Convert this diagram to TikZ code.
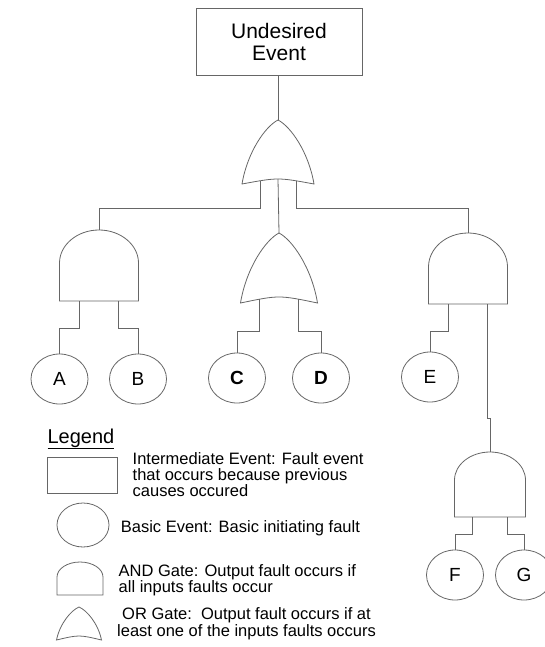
\documentclass[tikz,border=0pt]{standalone}
\usepackage{fontspec}
\setmainfont{Liberation Sans}
\usetikzlibrary{shapes.geometric}

\newcommand\legendfont{\fontsize{16.5}{16}\selectfont}

\tikzset{
  wire/.style={draw=black!60, line width=0.8pt},
  event/.style={wire, ellipse, minimum width=57pt, minimum height=50pt, inner sep=0pt,
    font=\fontsize{19}{19}\selectfont},
  % AND gate: #1 half width, #2 dome height, #3 side height
  pics/andgate/.style n args={3}{code={
    \draw[wire] (-#1,{#2+#3}) -- (-#1,#2) .. controls (-#1,{0.45*#2}) and ({-0.55*#1},0) .. (0,0)
      .. controls ({0.55*#1},0) and (#1,{0.45*#2}) .. (#1,#2) -- (#1,{#2+#3}) -- cycle;
    \coordinate (-out) at (0,0);
    \coordinate (-in1) at ({-0.5*#1},{#2+#3});
    \coordinate (-in2) at ({0.5*#1},{#2+#3});
  }},
  % OR gate: #1 half width, #2 height, #3 rise of the base
  pics/orgate/.style n args={3}{code={
    \draw[wire] (0,0) .. controls ({-0.35*#1},{0.1*#2}) and ({-0.85*#1},{0.5*#2}) .. (-#1,#2)
      .. controls (0,{#2-1.333*#3}) .. (#1,#2)
      .. controls ({0.85*#1},{0.5*#2}) and ({0.35*#1},{0.1*#2}) .. (0,0) -- cycle;
    \coordinate (-out) at (0,0);
    \coordinate (-in0) at (0,{#2-#3});
    \coordinate (-in1) at ({-0.5*#1},{#2-0.64*#3});
    \coordinate (-in2) at ({0.5*#1},{#2-0.64*#3});
  }}
}

\begin{document}
\begin{tikzpicture}[x=1pt, y=-1pt]
    \useasboundingbox (0,0) rectangle (545,647);

    % Top event
    \node[wire, minimum width=166pt, minimum height=67pt, align=center,
      font=\fontsize{21}{22}\selectfont] (top) at (279,41.5) {Undesired\\Event};

    % Gates
    \pic (or1) at (278,120) {orgate={36}{64}{5}};
    \pic (and1) at (99,230) {andgate={39.5}{33}{38}};
    \pic (or2) at (279,233) {orgate={38.5}{70}{6}};
    \pic (and2) at (468,233) {andgate={39.5}{34}{37}};
    \pic (and3) at (490,452) {andgate={35.5}{28}{37}};

    % Basic events
    \node[event] (evA) at (59.5,379) {A};
    \node[event] (evB) at (138,379) {B};
    \node[event] (evC) at (237,378) {\bfseries C};
    \node[event] (evD) at (321,378) {\bfseries D};
    \node[event] (evE) at (430,377) {E};
    \node[event] (evF) at (455,575) {F};
    \node[event] (evG) at (524,575) {G};

    % Connections
    \draw[wire] (top.south -| or1-out) -- (or1-out);
    \draw[wire] (or1-in1) -- ++(0,28) -| (and1-out);
    \draw[wire] (or1-in0) -- (or2-out);
    \draw[wire] (or1-in2) -- ++(0,28) -| (and2-out);
    \draw[wire] (and1-in1) -- ++(0,27) -| (evA.north);
    \draw[wire] (and1-in2) -- ++(0,27) -| (evB.north);
    \draw[wire] (or2-in1) -- ++(0,32) -| (evC.north);
    \draw[wire] (or2-in2) -- ++(0,32) -| (evD.north);
    \draw[wire] (and2-in1) -- ++(0,27) -| (evE.north);
    \draw[wire] (and2-in2) -- ++(0,114) -| (and3-out);
    \draw[wire] (and3-in1) -- ++(0,17) -| (evF.north);
    \draw[wire] (and3-in2) -- ++(0,17) -| (evG.north);

    % Legend (multi-line texts are placed by the baseline of their last line)
    \node[anchor=base west, font=\fontsize{20}{20}\selectfont] (lgtitle) at (44,443) {\underline{Legend}};
    \node[wire, minimum width=70pt, minimum height=36pt] (lgbox) at (82,475) {};
    \node[anchor=base west, align=left, font=\legendfont, inner sep=0pt] (lgboxtext) at (132.5,496.7)
      {Intermediate Event: Fault event\\that occurs because previous\\causes occured};
    \node[wire, ellipse, minimum width=52pt, minimum height=44pt, inner sep=0pt] (lgevent) at (83,525) {};
    \node[anchor=base west, font=\legendfont, inner sep=0pt] (lgeventtext) at (120.7,532.7)
      {Basic Event: Basic initiating fault};
    \pic (lgand) at (80,562) {andgate={23}{15}{18}};
    \node[anchor=base west, align=left, font=\legendfont, inner sep=0pt] (lgandtext) at (118.5,592.7)
      {AND Gate: Output fault occurs if\\all inputs faults occur};
    \pic (lgor) at (79,607) {orgate={22.5}{33}{4}};
    \node[anchor=base, align=center, font=\fontsize{16.5}{17.4}\selectfont, inner sep=0pt] (lgortext) at (246.5,636.7)
      {OR Gate:\ \ Output fault occurs if at\\least one of the inputs faults occurs};
\end{tikzpicture}
\end{document}
